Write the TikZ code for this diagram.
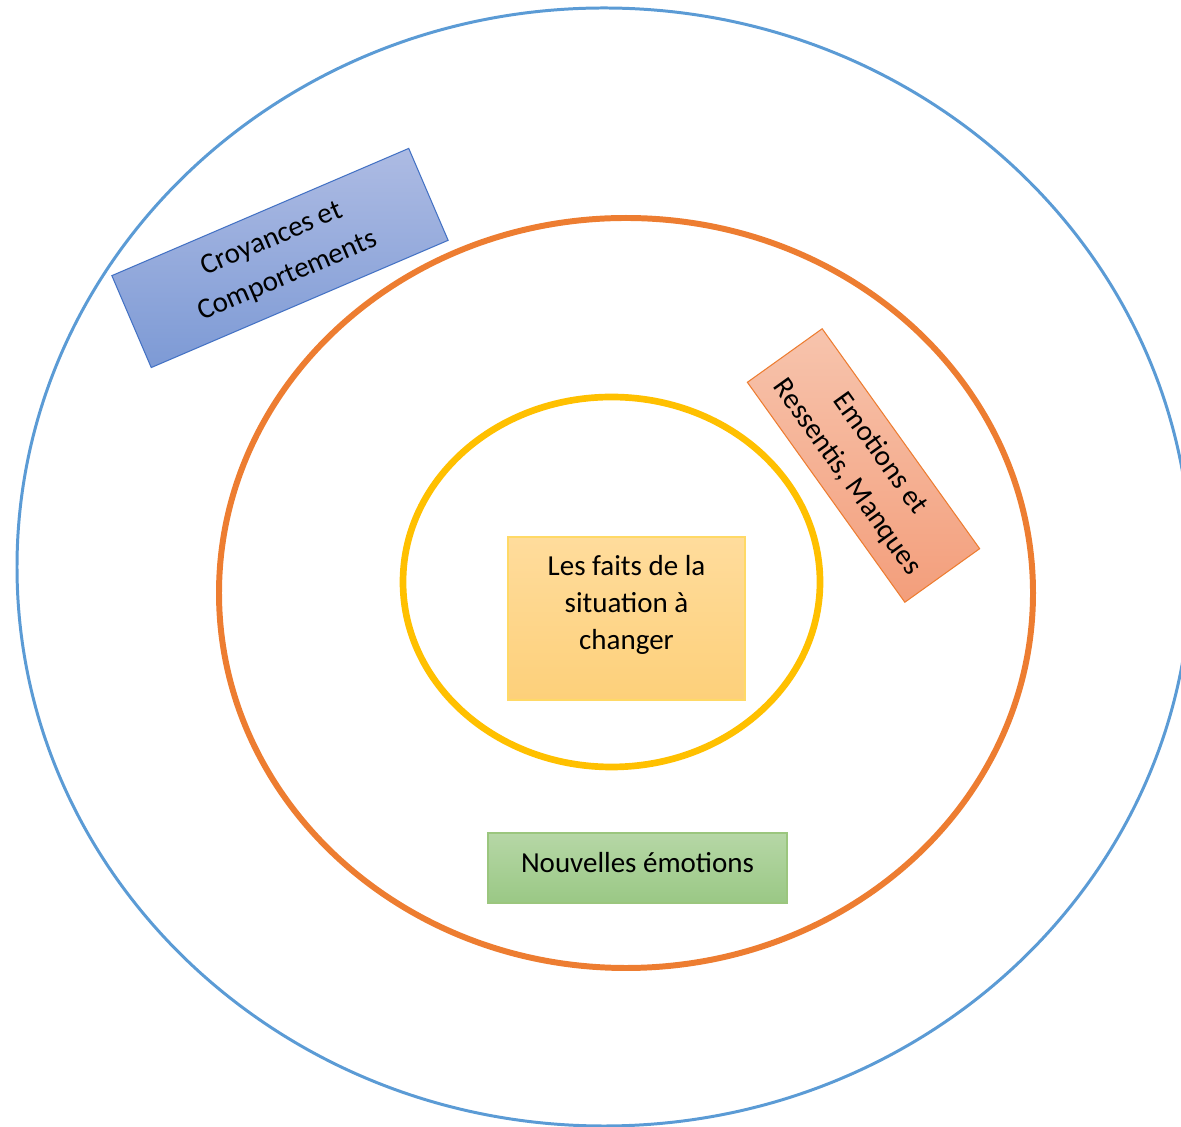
\documentclass[tikz,border=0pt]{standalone}
\usepackage{fontspec}
\setmainfont{Carlito}
\usetikzlibrary{positioning}
\definecolor{bleuciel}{HTML}{5B9BD5}
\definecolor{orangevif}{HTML}{ED7D31}
\definecolor{jaune}{HTML}{FFC000}
\definecolor{bleuroi}{HTML}{4472C4}
\definecolor{vert}{HTML}{70AD47}
\definecolor{bleuhaut}{HTML}{ADBBE3}
\definecolor{bleubas}{HTML}{7D9AD5}
\definecolor{saumonhaut}{HTML}{F7C4AD}
\definecolor{saumonbas}{HTML}{F39E7B}
\definecolor{jaunehaut}{HTML}{FFDC9C}
\definecolor{jaunebas}{HTML}{FDD07A}
\definecolor{verthaut}{HTML}{B6D7A6}
\definecolor{vertbas}{HTML}{9AC885}
\tikzset{
  cercleext/.style={draw=bleuciel, line width=1.7pt},
  cerclemil/.style={draw=orangevif, line width=3.4pt},
  cercleint/.style={draw=jaune, line width=3.8pt},
  boite/.style={rectangle, inner sep=0pt, align=center, line width=0.6pt,
                font=\fontsize{16.5}{23}\selectfont},
  boitebleue/.style={boite, draw=bleuroi, top color=bleuhaut, bottom color=bleubas,
                     minimum width=6.46cm, minimum height=2.0cm},
  boitesaumon/.style={boite, draw=orangevif, top color=saumonhaut, bottom color=saumonbas,
                      minimum width=5.41cm, minimum height=1.84cm},
  boitejaune/.style={boite, draw=jaune!60, top color=jaunehaut, bottom color=jaunebas,
                     minimum width=4.74cm, minimum height=3.26cm},
  boiteverte/.style={boite, draw=vert!70, top color=verthaut, bottom color=vertbas,
                     minimum width=5.98cm, minimum height=1.4cm, text depth=0.24cm},
  texte/.style={inner sep=0pt, align=center, font=\fontsize{16.5}{21}\selectfont}
}

\begin{document}
\begin{tikzpicture}
  \useasboundingbox (0,0) rectangle (23.62,22.52);
  \clip (0,0) rectangle (23.62,22.52);
  % les trois cercles
  \draw [cercleext] (12.08,11.18) ellipse [x radius=11.74, y radius=11.18];
  \draw [cerclemil] (12.52,10.66) ellipse [x radius=8.14, y radius=7.5];
  \draw [cercleint] (12.23,10.88) ellipse [x radius=4.17, y radius=3.7];
  % les boites
  \node (croy) [boitebleue, rotate=23.2] at (5.6,17.36) {Croyances et\\Comportements};
  \node (emo) [boitesaumon, rotate=-54.4] at (17.27,13.21) {Emotions et\\Ressentis, Manques};
  \node (faits) [boitejaune] at (12.53,10.15) {};
  \node (faitstxt) [texte, below=0.38cm of faits.north] {Les faits de la\\situation à\\changer};
  \node (nouv) [boiteverte] at (12.75,5.16) {Nouvelles émotions};
\end{tikzpicture}
\end{document}
